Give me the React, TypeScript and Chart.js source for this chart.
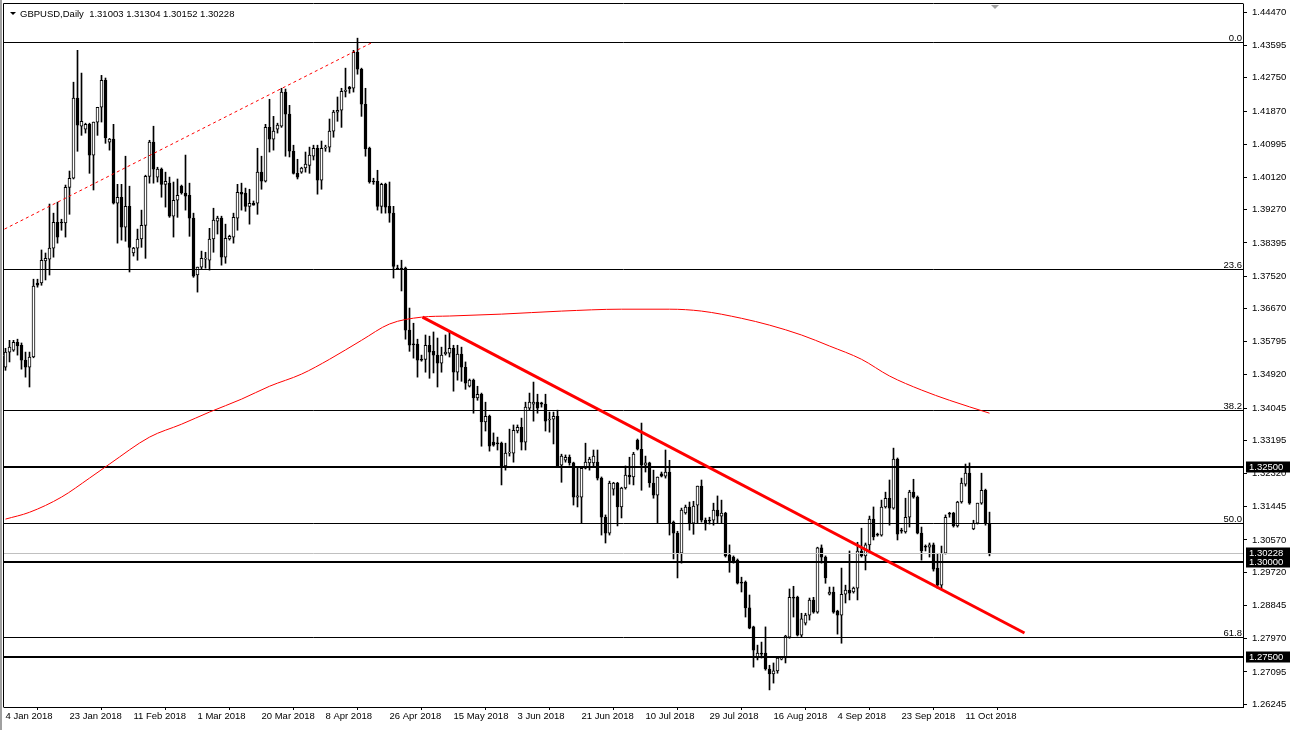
import React, { useEffect, useRef } from "react";
import { Chart, registerables } from "chart.js";

Chart.register(...registerables);

// ---- Daily GBPUSD candles (index 0 = 4 Jan 2018, 6 bars per week) ----
const OPEN: number[] = [
  1.3512, 1.3552, 1.3557, 1.3578, 1.3570, 1.3531, 1.3512, 1.3539, 1.3734, 1.3734,
  1.3792, 1.3797, 1.3826, 1.3894, 1.3894, 1.3892, 1.3986, 1.4010, 1.4221, 1.4147,
  1.4139, 1.4152, 1.4071, 1.4158, 1.4197, 1.4268, 1.4105, 1.4113, 1.3944, 1.3960,
  1.3881, 1.3936, 1.3813, 1.3826, 1.3850, 1.3886, 1.4015, 1.4105, 1.4013, 1.4034,
  1.3994, 1.3997, 1.3910, 1.3952, 1.3989, 1.3971, 1.3965, 1.3905, 1.3755, 1.3776,
  1.3797, 1.3794, 1.3850, 1.3897, 1.3905, 1.3802, 1.3850, 1.3855, 1.3905, 1.3973,
  1.3971, 1.3936, 1.3944, 1.3944, 1.4026, 1.4002, 1.4144, 1.4113, 1.4139, 1.4147,
  1.4237, 1.4179, 1.4081, 1.4023, 1.4026, 1.4037, 1.4044, 1.4068, 1.4089, 1.4005,
  1.4089, 1.4092, 1.4134, 1.4184, 1.4189, 1.4239, 1.4250, 1.4247, 1.4342, 1.4297,
  1.4205, 1.4089, 1.4002, 1.4002, 1.3936, 1.3994, 1.3936, 1.3918, 1.3773, 1.3773,
  1.3773, 1.3610, 1.3573, 1.3573, 1.3533, 1.3533, 1.3570, 1.3554, 1.3544, 1.3523,
  1.3547, 1.3549, 1.3562, 1.3499, 1.3547, 1.3512, 1.3462, 1.3478, 1.3431, 1.3441,
  1.3368, 1.3383, 1.3315, 1.3312, 1.3312, 1.3252, 1.3286, 1.3286, 1.3344, 1.3354,
  1.3315, 1.3404, 1.3415, 1.3420, 1.3418, 1.3415, 1.3373, 1.3375, 1.3383, 1.3254,
  1.3267, 1.3275, 1.3260, 1.3170, 1.3170, 1.3246, 1.3260, 1.3260, 1.3262, 1.3220,
  1.3117, 1.3075, 1.3191, 1.3207, 1.3144, 1.3194, 1.3228, 1.3223, 1.3320, 1.3296,
  1.3254, 1.3260, 1.3207, 1.3175, 1.3231, 1.3225, 1.3236, 1.3104, 1.3075, 1.3022,
  1.3128, 1.3144, 1.3101, 1.3149, 1.3199, 1.3109, 1.3109, 1.3109, 1.3136, 1.3120,
  1.3128, 1.3017, 1.3012, 1.3004, 1.2946, 1.2946, 1.2878, 1.2828, 1.2746, 1.2759,
  1.2759, 1.2717, 1.2704, 1.2712, 1.2743, 1.2746, 1.2801, 1.2906, 1.2906, 1.2806,
  1.2838, 1.2859, 1.2899, 1.2867, 1.3036, 1.3012, 1.2914, 1.2920, 1.2870, 1.2859,
  1.2914, 1.2925, 1.2920, 1.2930, 1.3028, 1.3015, 1.3044, 1.3112, 1.3072, 1.3070,
  1.3144, 1.3167, 1.3141, 1.3270, 1.3083, 1.3078, 1.3117, 1.3183, 1.3170, 1.3075,
  1.3041, 1.3038, 1.3044, 1.2983, 1.2938, 1.3022, 1.3128, 1.3128, 1.3094, 1.3157,
  1.3204, 1.3233, 1.3086, 1.3101, 1.3154, 1.3188, 1.31003,
];

const HIGH: number[] = [
  1.3562, 1.3583, 1.3583, 1.3586, 1.3576, 1.3552, 1.3552, 1.3744, 1.3744, 1.3821,
  1.3813, 1.3942, 1.3918, 1.3947, 1.3902, 1.3992, 1.4029, 1.4263, 1.4347, 1.4287,
  1.4155, 1.4155, 1.4158, 1.4197, 1.4281, 1.4274, 1.4115, 1.4152, 1.3994, 1.3994,
  1.4068, 1.3989, 1.3828, 1.3876, 1.3926, 1.4018, 1.4110, 1.4147, 1.4039, 1.4037,
  1.4026, 1.4013, 1.4000, 1.4008, 1.3992, 1.4071, 1.3997, 1.3918, 1.3776, 1.3818,
  1.3815, 1.3878, 1.3931, 1.3910, 1.3910, 1.3889, 1.3860, 1.3918, 1.3994, 1.3997,
  1.3984, 1.3981, 1.3950, 1.4089, 1.4068, 1.4152, 1.4218, 1.4173, 1.4155, 1.4247,
  1.4245, 1.4202, 1.4097, 1.4060, 1.4039, 1.4079, 1.4092, 1.4097, 1.4097, 1.4108,
  1.4097, 1.4166, 1.4189, 1.4224, 1.4247, 1.4300, 1.4252, 1.4347, 1.4379, 1.4300,
  1.4247, 1.4092, 1.4010, 1.4031, 1.3997, 1.3997, 1.4000, 1.3936, 1.3781, 1.3794,
  1.3776, 1.3668, 1.3628, 1.3586, 1.3544, 1.3597, 1.3594, 1.3605, 1.3589, 1.3565,
  1.3597, 1.3607, 1.3570, 1.3570, 1.3565, 1.3526, 1.3481, 1.3481, 1.3462, 1.3444,
  1.3420, 1.3386, 1.3339, 1.3328, 1.3315, 1.3312, 1.3349, 1.3360, 1.3360, 1.3378,
  1.3420, 1.3444, 1.3473, 1.3441, 1.3420, 1.3441, 1.3394, 1.3394, 1.3399, 1.3283,
  1.3281, 1.3281, 1.3262, 1.3249, 1.3249, 1.3312, 1.3275, 1.3294, 1.3294, 1.3223,
  1.3123, 1.3212, 1.3209, 1.3209, 1.3196, 1.3252, 1.3275, 1.3288, 1.3323, 1.3365,
  1.3278, 1.3262, 1.3241, 1.3223, 1.3236, 1.3294, 1.3267, 1.3107, 1.3080, 1.3141,
  1.3149, 1.3157, 1.3159, 1.3199, 1.3215, 1.3115, 1.3117, 1.3154, 1.3173, 1.3162,
  1.3130, 1.3044, 1.3015, 1.3007, 1.2959, 1.2949, 1.2912, 1.2830, 1.2780, 1.2788,
  1.2828, 1.2727, 1.2733, 1.2749, 1.2749, 1.2806, 1.2928, 1.2935, 1.2909, 1.2864,
  1.2864, 1.2904, 1.2906, 1.3038, 1.3044, 1.3015, 1.2933, 1.2933, 1.2872, 1.2983,
  1.2938, 1.3028, 1.2933, 1.3051, 1.3088, 1.3049, 1.3120, 1.3144, 1.3075, 1.3162,
  1.3183, 1.3215, 1.3299, 1.3273, 1.3088, 1.3167, 1.3188, 1.3217, 1.3173, 1.3091,
  1.3044, 1.3049, 1.3049, 1.3022, 1.3041, 1.3123, 1.3130, 1.3130, 1.3159, 1.3220,
  1.3257, 1.3260, 1.3109, 1.3154, 1.3233, 1.3191, 1.31304,
];

const LOW: number[] = [
  1.3504, 1.3526, 1.3554, 1.3544, 1.3507, 1.3486, 1.3460, 1.3537, 1.3723, 1.3728,
  1.3742, 1.3755, 1.3802, 1.3839, 1.3873, 1.3855, 1.3915, 1.4008, 1.4081, 1.4123,
  1.4129, 1.4023, 1.3979, 1.4123, 1.4158, 1.4102, 1.4084, 1.3942, 1.3839, 1.3847,
  1.3844, 1.3763, 1.3805, 1.3794, 1.3828, 1.3799, 1.3997, 1.3997, 1.4000, 1.3960,
  1.3934, 1.3907, 1.3855, 1.3907, 1.3968, 1.3926, 1.3857, 1.3749, 1.3710, 1.3770,
  1.3773, 1.3768, 1.3815, 1.3863, 1.3781, 1.3786, 1.3847, 1.3839, 1.3873, 1.3926,
  1.3923, 1.3889, 1.3939, 1.3915, 1.3981, 1.4000, 1.4079, 1.4084, 1.4129, 1.4144,
  1.4068, 1.4066, 1.4021, 1.4008, 1.4023, 1.4026, 1.4023, 1.4058, 1.3968, 1.3981,
  1.4081, 1.4079, 1.4118, 1.4160, 1.4144, 1.4224, 1.4234, 1.4237, 1.4284, 1.4173,
  1.4068, 1.3997, 1.3994, 1.3926, 1.3918, 1.3918, 1.3894, 1.3747, 1.3770, 1.3713,
  1.3586, 1.3554, 1.3536, 1.3486, 1.3528, 1.3499, 1.3483, 1.3497, 1.3460, 1.3499,
  1.3544, 1.3539, 1.3449, 1.3478, 1.3475, 1.3454, 1.3460, 1.3391, 1.3425, 1.3304,
  1.3344, 1.3291, 1.3304, 1.3294, 1.3202, 1.3241, 1.3278, 1.3262, 1.3339, 1.3294,
  1.3294, 1.3399, 1.3370, 1.3391, 1.3407, 1.3344, 1.3341, 1.3310, 1.3250, 1.3209,
  1.3262, 1.3254, 1.3149, 1.3144, 1.3101, 1.3244, 1.3241, 1.3252, 1.3215, 1.3070,
  1.3049, 1.3070, 1.3175, 1.3094, 1.3115, 1.3191, 1.3204, 1.3202, 1.3294, 1.3188,
  1.3236, 1.3196, 1.3167, 1.3101, 1.3223, 1.3220, 1.3070, 1.3007, 1.2957, 1.2996,
  1.3125, 1.3083, 1.3072, 1.3101, 1.3104, 1.3083, 1.3099, 1.3096, 1.3101, 1.3101,
  1.3012, 1.2972, 1.2996, 1.2941, 1.2920, 1.2854, 1.2823, 1.2722, 1.2741, 1.2746,
  1.2714, 1.2662, 1.2680, 1.2706, 1.2741, 1.2733, 1.2798, 1.2854, 1.2804, 1.2801,
  1.2833, 1.2846, 1.2864, 1.2864, 1.2996, 1.2943, 1.2912, 1.2864, 1.2809, 1.2785,
  1.2891, 1.2899, 1.2917, 1.2899, 1.3012, 1.2978, 1.3025, 1.3057, 1.3067, 1.3067,
  1.3141, 1.3096, 1.3138, 1.3057, 1.3075, 1.3075, 1.3091, 1.3167, 1.3073, 1.3004,
  1.3028, 1.3012, 1.2975, 1.2930, 1.2928, 1.3020, 1.3117, 1.3091, 1.3091, 1.3154,
  1.3199, 1.3151, 1.3084, 1.3099, 1.3151, 1.3096, 1.30152,
];

const CLOSE: number[] = [
  1.3552, 1.3565, 1.3578, 1.3568, 1.3531, 1.3512, 1.3539, 1.3726, 1.3728, 1.3794,
  1.3799, 1.3826, 1.3894, 1.3855, 1.3892, 1.3986, 1.4010, 1.4221, 1.4150, 1.4160,
  1.4152, 1.4071, 1.4158, 1.4197, 1.4268, 1.4116, 1.4113, 1.3944, 1.3960, 1.3881,
  1.3936, 1.3828, 1.3826, 1.3850, 1.3886, 1.4015, 1.4105, 1.4034, 1.4034, 1.3994,
  1.4002, 1.3910, 1.3952, 1.3965, 1.3971, 1.3963, 1.3905, 1.3752, 1.3776, 1.3799,
  1.3799, 1.3850, 1.3900, 1.3905, 1.3802, 1.3852, 1.3857, 1.3907, 1.3973, 1.3968,
  1.3936, 1.3944, 1.3939, 1.4026, 1.4002, 1.4144, 1.4113, 1.4134, 1.4150, 1.4237,
  1.4179, 1.4081, 1.4023, 1.4013, 1.4037, 1.4047, 1.4071, 1.4089, 1.4005, 1.4089,
  1.4092, 1.4134, 1.4184, 1.4189, 1.4239, 1.4242, 1.4245, 1.4342, 1.4297, 1.4205,
  1.4087, 1.4000, 1.4000, 1.3936, 1.3994, 1.3934, 1.3918, 1.3778, 1.3770, 1.3770,
  1.3610, 1.3570, 1.3571, 1.3531, 1.3531, 1.3570, 1.3552, 1.3544, 1.3523, 1.3544,
  1.3552, 1.3562, 1.3499, 1.3547, 1.3512, 1.3470, 1.3478, 1.3431, 1.3441, 1.3368,
  1.3383, 1.3304, 1.3307, 1.3310, 1.3252, 1.3286, 1.3288, 1.3346, 1.3354, 1.3315,
  1.3407, 1.3420, 1.3420, 1.3404, 1.3415, 1.3370, 1.3373, 1.3383, 1.3252, 1.3278,
  1.3275, 1.3260, 1.3170, 1.3173, 1.3246, 1.3262, 1.3270, 1.3278, 1.3220, 1.3117,
  1.3075, 1.3207, 1.3207, 1.3144, 1.3194, 1.3228, 1.3223, 1.3283, 1.3296, 1.3254,
  1.3260, 1.3207, 1.3175, 1.3223, 1.3225, 1.3236, 1.3101, 1.3075, 1.3022, 1.3136,
  1.3144, 1.3101, 1.3146, 1.3199, 1.3109, 1.3099, 1.3107, 1.3136, 1.3120, 1.3128,
  1.3015, 1.3001, 1.3001, 1.2943, 1.2943, 1.2878, 1.2825, 1.2767, 1.2759, 1.2756,
  1.2717, 1.2704, 1.2712, 1.2746, 1.2746, 1.2804, 1.2906, 1.2904, 1.2806, 1.2849,
  1.2859, 1.2899, 1.2867, 1.3036, 1.3012, 1.2957, 1.2920, 1.2867, 1.2859, 1.2914,
  1.2925, 1.2917, 1.2930, 1.3028, 1.3015, 1.3044, 1.3112, 1.3065, 1.3070, 1.3144,
  1.3167, 1.3141, 1.3270, 1.3072, 1.3080, 1.3117, 1.3183, 1.3170, 1.3075, 1.3028,
  1.3038, 1.3044, 1.2980, 1.2938, 1.3022, 1.3117, 1.3125, 1.3094, 1.3157, 1.3207,
  1.3233, 1.3154, 1.3101, 1.3154, 1.3188, 1.3101, 1.30228,
];

// 200-day moving average, read at sampled bars
const MA_INDEX = [0, 6, 14, 21, 26, 36, 44, 51, 59, 66, 74, 81, 89, 96, 104, 111, 124, 139, 154, 166, 174, 184, 191, 199, 206, 214, 221, 229, 236, 246];
const MA_VALUE = [1.3112, 1.313, 1.317, 1.322, 1.3257, 1.3328, 1.3362, 1.3394, 1.3428, 1.3462, 1.3494, 1.3533, 1.3583, 1.3626, 1.3644, 1.3647, 1.3652, 1.366, 1.3665, 1.3665, 1.366, 1.3641, 1.3623, 1.3597, 1.3568, 1.3533, 1.3489, 1.3452, 1.3425, 1.3391];

// trend lines (bar index, price)
const DOTTED_TREND_INDEX = [-0.25, 91.75];
const DOTTED_TREND_PRICE = [1.3876, 1.4368];
const THICK_TREND_INDEX = [104.25, 254.75];
const THICK_TREND_PRICE = [1.3644, 1.2812];

// Fibonacci levels
const FIB_LABELS = ["0.0", "23.6", "38.2", "50.0", "61.8"];
const FIB_PRICES = [1.4368, 1.3771, 1.3399, 1.3101, 1.2801];

// horizontal support / resistance lines
const KEY_LEVELS = [1.325, 1.3, 1.275];
const LAST_PRICE = 1.30228;
const HEADER = "GBPUSD,Daily  1.31003 1.31304 1.30152 1.30228";

// axes
const X_TICK_INDEX = [0, 16, 32, 48, 64, 80, 96, 112, 128, 144, 160, 176, 192, 208, 224, 240];
const X_TICK_LABELS = [
  "4 Jan 2018", "23 Jan 2018", "11 Feb 2018", "1 Mar 2018", "20 Mar 2018", "8 Apr 2018",
  "26 Apr 2018", "15 May 2018", "3 Jun 2018", "21 Jun 2018", "10 Jul 2018", "29 Jul 2018",
  "16 Aug 2018", "4 Sep 2018", "23 Sep 2018", "11 Oct 2018",
];
const Y_TICKS = [
  1.4447, 1.43595, 1.4275, 1.4187, 1.40995, 1.4012, 1.3927, 1.38395, 1.3752, 1.3667, 1.35795,
  1.3492, 1.34045, 1.33195, 1.3232, 1.31445, 1.3057, 1.2972, 1.28845, 1.2797, 1.27095, 1.26245,
];
const X_MIN = -0.375;
const X_MAX = 309.375;
const Y_MIN = 1.2617;
const Y_MAX = 1.4469;

// target plot box inside the 1290x730 canvas
const AREA = { left: 4, top: 4, right: 1243, bottom: 707 };

const FONT = "Liberation Sans";

export default function App() {
  const ref = useRef<HTMLCanvasElement>(null);

  useEffect(() => {
    document.body.style.margin = "0";
    const canvas = ref.current!;
    const idx = OPEN.map((_, i) => i);
    const wickData = idx.map((i) => ({ x: i, y: [LOW[i], HIGH[i]] }));
    const bodyData = idx.map((i) => ({ x: i, y: [OPEN[i], CLOSE[i]] }));
    const bodyColors = idx.map((i) => (CLOSE[i] >= OPEN[i] ? "#ffffff" : "#000000"));

    const levelsPlugin = {
      id: "levels",
      afterDatasetDraw(chart: any, args: any) {
        if (args.index !== 1) return;
        const { ctx, chartArea: a, scales } = chart;
        const ys = scales.y;
        ctx.save();
        ctx.beginPath();
        ctx.rect(a.left, a.top, a.right - a.left, a.bottom - a.top);
        ctx.clip();
        const y = Math.round(ys.getPixelForValue(LAST_PRICE)) + 0.5;
        ctx.strokeStyle = "#c0c0c0";
        ctx.lineWidth = 1;
        ctx.beginPath();
        ctx.moveTo(a.left, y);
        ctx.lineTo(a.right, y);
        ctx.stroke();
        ctx.strokeStyle = "#000";
        ctx.fillStyle = "#000";
        ctx.font = `9.5px "${FONT}"`;
        ctx.textAlign = "right";
        ctx.textBaseline = "alphabetic";
        FIB_PRICES.forEach((p, k) => {
          const yy = Math.round(ys.getPixelForValue(p)) + 0.5;
          ctx.beginPath();
          ctx.moveTo(a.left, yy);
          ctx.lineTo(a.right, yy);
          ctx.stroke();
          ctx.fillText(FIB_LABELS[k], a.right - 1, yy - 2);
        });
        ctx.lineWidth = 2;
        KEY_LEVELS.forEach((p) => {
          const yy = Math.round(ys.getPixelForValue(p));
          ctx.beginPath();
          ctx.moveTo(a.left, yy);
          ctx.lineTo(a.right, yy);
          ctx.stroke();
        });
        ctx.restore();
      },
      afterDraw(chart: any) {
        const { ctx, chartArea: a, scales, width, height } = chart;
        const ys = scales.y;
        ctx.save();
        ctx.fillStyle = "#a0a0a0";
        ctx.fillRect(0, 0, 2, height);
        ctx.strokeStyle = "#000";
        ctx.lineWidth = 1;
        ctx.beginPath();
        ctx.moveTo(a.left - 0.5, a.top - 0.5);
        ctx.lineTo(a.right + 0.5, a.top - 0.5);
        ctx.moveTo(a.left - 0.5, a.top - 0.5);
        ctx.lineTo(a.left - 0.5, a.bottom + 0.5);
        ctx.stroke();
        ctx.font = `9.5px "${FONT}"`;
        ctx.textAlign = "left";
        ctx.textBaseline = "middle";
        const tags = [LAST_PRICE, ...KEY_LEVELS];
        tags.forEach((p) => {
          const yy = Math.round(ys.getPixelForValue(p));
          ctx.fillStyle = "#000";
          ctx.fillRect(a.right + 3, yy - 5.5, width - a.right - 3, 11);
          ctx.fillStyle = "#fff";
          ctx.fillText(p.toFixed(5), a.right + 6, yy + 0.5);
        });
        ctx.fillStyle = "#000";
        ctx.beginPath();
        ctx.moveTo(a.left + 6, a.top + 8);
        ctx.lineTo(a.left + 12, a.top + 8);
        ctx.lineTo(a.left + 9, a.top + 11);
        ctx.closePath();
        ctx.fill();
        ctx.textBaseline = "alphabetic";
        ctx.fillText(HEADER, a.left + 16, a.top + 12.5);
        ctx.fillStyle = "#a0a0a0";
        ctx.beginPath();
        ctx.moveTo(991, a.top + 1);
        ctx.lineTo(999, a.top + 1);
        ctx.lineTo(995, a.top + 5);
        ctx.closePath();
        ctx.fill();
        ctx.restore();
      },
    };

    const chart = new Chart(canvas, {
      type: "bar",
      data: {
        datasets: [
          {
            type: "bar",
            data: wickData as any,
            backgroundColor: "#000",
            borderWidth: 0,
            barThickness: 1,
            grouped: false,
            order: 10,
          } as any,
          {
            type: "bar",
            data: bodyData as any,
            backgroundColor: bodyColors,
            borderColor: "#000",
            borderWidth: 1,
            borderSkipped: false,
            barThickness: 3,
            minBarLength: 1,
            grouped: false,
            order: 9,
          } as any,
          {
            type: "line",
            data: MA_INDEX.map((x, k) => ({ x, y: MA_VALUE[k] })),
            borderColor: "#ff0000",
            borderWidth: 1,
            pointRadius: 0,
            cubicInterpolationMode: "monotone",
            order: 3,
          } as any,
          {
            type: "line",
            data: DOTTED_TREND_INDEX.map((x, k) => ({ x, y: DOTTED_TREND_PRICE[k] })),
            borderColor: "#ff0000",
            borderWidth: 1,
            borderDash: [3, 3],
            pointRadius: 0,
            order: 2,
          } as any,
          {
            type: "line",
            data: THICK_TREND_INDEX.map((x, k) => ({ x, y: THICK_TREND_PRICE[k] })),
            borderColor: "#ff0000",
            borderWidth: 3,
            pointRadius: 0,
            order: 1,
          } as any,
        ],
      },
      options: {
        responsive: false,
        animation: false,
        devicePixelRatio: 1,
        events: [],
        layout: { autoPadding: false, padding: { left: AREA.left, top: AREA.top, right: 0, bottom: 0 } },
        plugins: { legend: { display: false }, tooltip: { enabled: false } },
        scales: {
          x: {
            type: "linear",
            min: X_MIN,
            max: X_MAX,
            offset: false,
            grid: { display: true, drawOnChartArea: false, drawTicks: true, tickLength: 3, color: "#000" },
            border: { display: true, color: "#000", width: 1 },
            ticks: {
              autoSkip: false,
              maxRotation: 0,
              minRotation: 0,
              align: "start",
              color: "#000",
              padding: 1,
              font: { family: FONT, size: 9.5 },
              callback: (v: any) => X_TICK_LABELS[X_TICK_INDEX.indexOf(Number(v))] ?? "",
            },
            afterBuildTicks: (s: any) => {
              s.ticks = X_TICK_INDEX.map((value) => ({ value }));
            },
            afterFit: (s: any) => {
              s.height = 730 - AREA.bottom;
              s.paddingLeft = 0;
              s.paddingRight = 0;
            },
          },
          y: {
            type: "linear",
            position: "right",
            min: Y_MIN,
            max: Y_MAX,
            grid: { display: true, drawOnChartArea: false, drawTicks: true, tickLength: 4, color: "#000" },
            border: { display: true, color: "#000", width: 1 },
            ticks: {
              color: "#000",
              padding: 5,
              font: { family: FONT, size: 9.5 },
              callback: (v: any) => Number(v).toFixed(5),
            },
            afterBuildTicks: (s: any) => {
              s.ticks = Y_TICKS.map((value) => ({ value }));
            },
            afterFit: (s: any) => {
              s.width = 1290 - AREA.right;
              s.paddingTop = 0;
              s.paddingBottom = 0;
            },
          },
        },
      } as any,
      plugins: [levelsPlugin],
    });

    // make sure the plot box lands exactly where intended
    const ca = chart.chartArea;
    const dTop = ca.top - AREA.top;
    const dLeft = ca.left - AREA.left;
    if (Math.abs(dTop) > 0.01 || Math.abs(dLeft) > 0.01) {
      const pad = (chart.options as any).layout.padding;
      pad.top = AREA.top - dTop;
      pad.left = AREA.left - dLeft;
      chart.update();
    }

    return () => chart.destroy();
  }, []);

  return (
    <div style={{ position: "fixed", left: 0, top: 0, width: 1290, height: 730, background: "#fff" }}>
      <canvas ref={ref} width={1290} height={730} style={{ width: 1290, height: 730, display: "block" }} />
    </div>
  );
}
